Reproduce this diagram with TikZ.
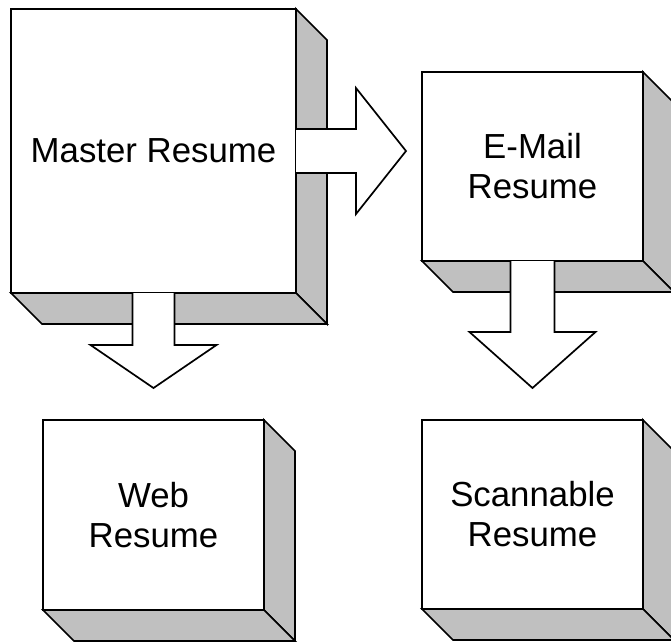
\documentclass[tikz,border=0pt]{standalone}
\usepackage{fontspec}
\setmainfont{Liberation Sans}
\usetikzlibrary{calc}
\definecolor{sidegray}{RGB}{192,192,192}
\tikzset{
  card/.style={draw, fill=white, line width=1.7pt, outer sep=0pt, inner sep=0pt,
    align=center, font=\fontsize{34.8}{40}\selectfont},
  face/.style={draw, fill=sidegray, line width=1.7pt, line join=miter},
  blockarrow/.style={draw, fill=white, line width=1.7pt, line join=miter},
}
% shaded right and bottom faces of a slab node
\newcommand\slabfaces[1]{%
  \draw[face] (#1.north east) -- ++(31,31) -- ($(#1.south east)+(31,31)$) -- (#1.south east) -- cycle;
  \draw[face] (#1.south west) -- ++(31,31) -- ($(#1.south east)+(31,31)$) -- (#1.south east) -- cycle;
}
\begin{document}
\begin{tikzpicture}[x=1pt,y=-1pt]
\useasboundingbox (0,0) rectangle (671,641);
\clip (0,0) rectangle (671,641);

% front faces
\node[card, minimum width=285pt, minimum height=284pt] (master) at (153.5,151) {Master Resume};
\node[card, minimum width=221pt, minimum height=189pt] (email) at (532.5,166.5) {E-Mail\\Resume};
\node[card, minimum width=221pt, minimum height=190pt] (web) at (153.5,515) {Web\\Resume};
\node[card, minimum width=221pt, minimum height=189pt] (scan) at (532.5,514.5) {Scannable\\Resume};

% depth faces
\slabfaces{master}
\slabfaces{email}
\slabfaces{web}
\slabfaces{scan}

% block arrows
\draw[blockarrow] ($(master.east)+(0,-22)$) -- ++(60,0) -- ++(0,-41)
  -- ($(master.east)+(110,0)$) -- ($(master.east)+(60,63)$) -- ++(0,-41)
  -- ($(master.east)+(0,22)$);
\draw[blockarrow] ($(master.south)+(-21,0)$) -- ++(0,52) -- ++(-42,0)
  -- ($(master.south)+(0,95)$) -- ($(master.south)+(63,52)$) -- ++(-42,0)
  -- ($(master.south)+(21,0)$);
\draw[blockarrow] ($(email.south)+(-22,0)$) -- ++(0,71) -- ++(-41,0)
  -- ($(email.south)+(0,127)$) -- ($(email.south)+(63,71)$) -- ++(-41,0)
  -- ($(email.south)+(22,0)$);
\end{tikzpicture}
\end{document}
